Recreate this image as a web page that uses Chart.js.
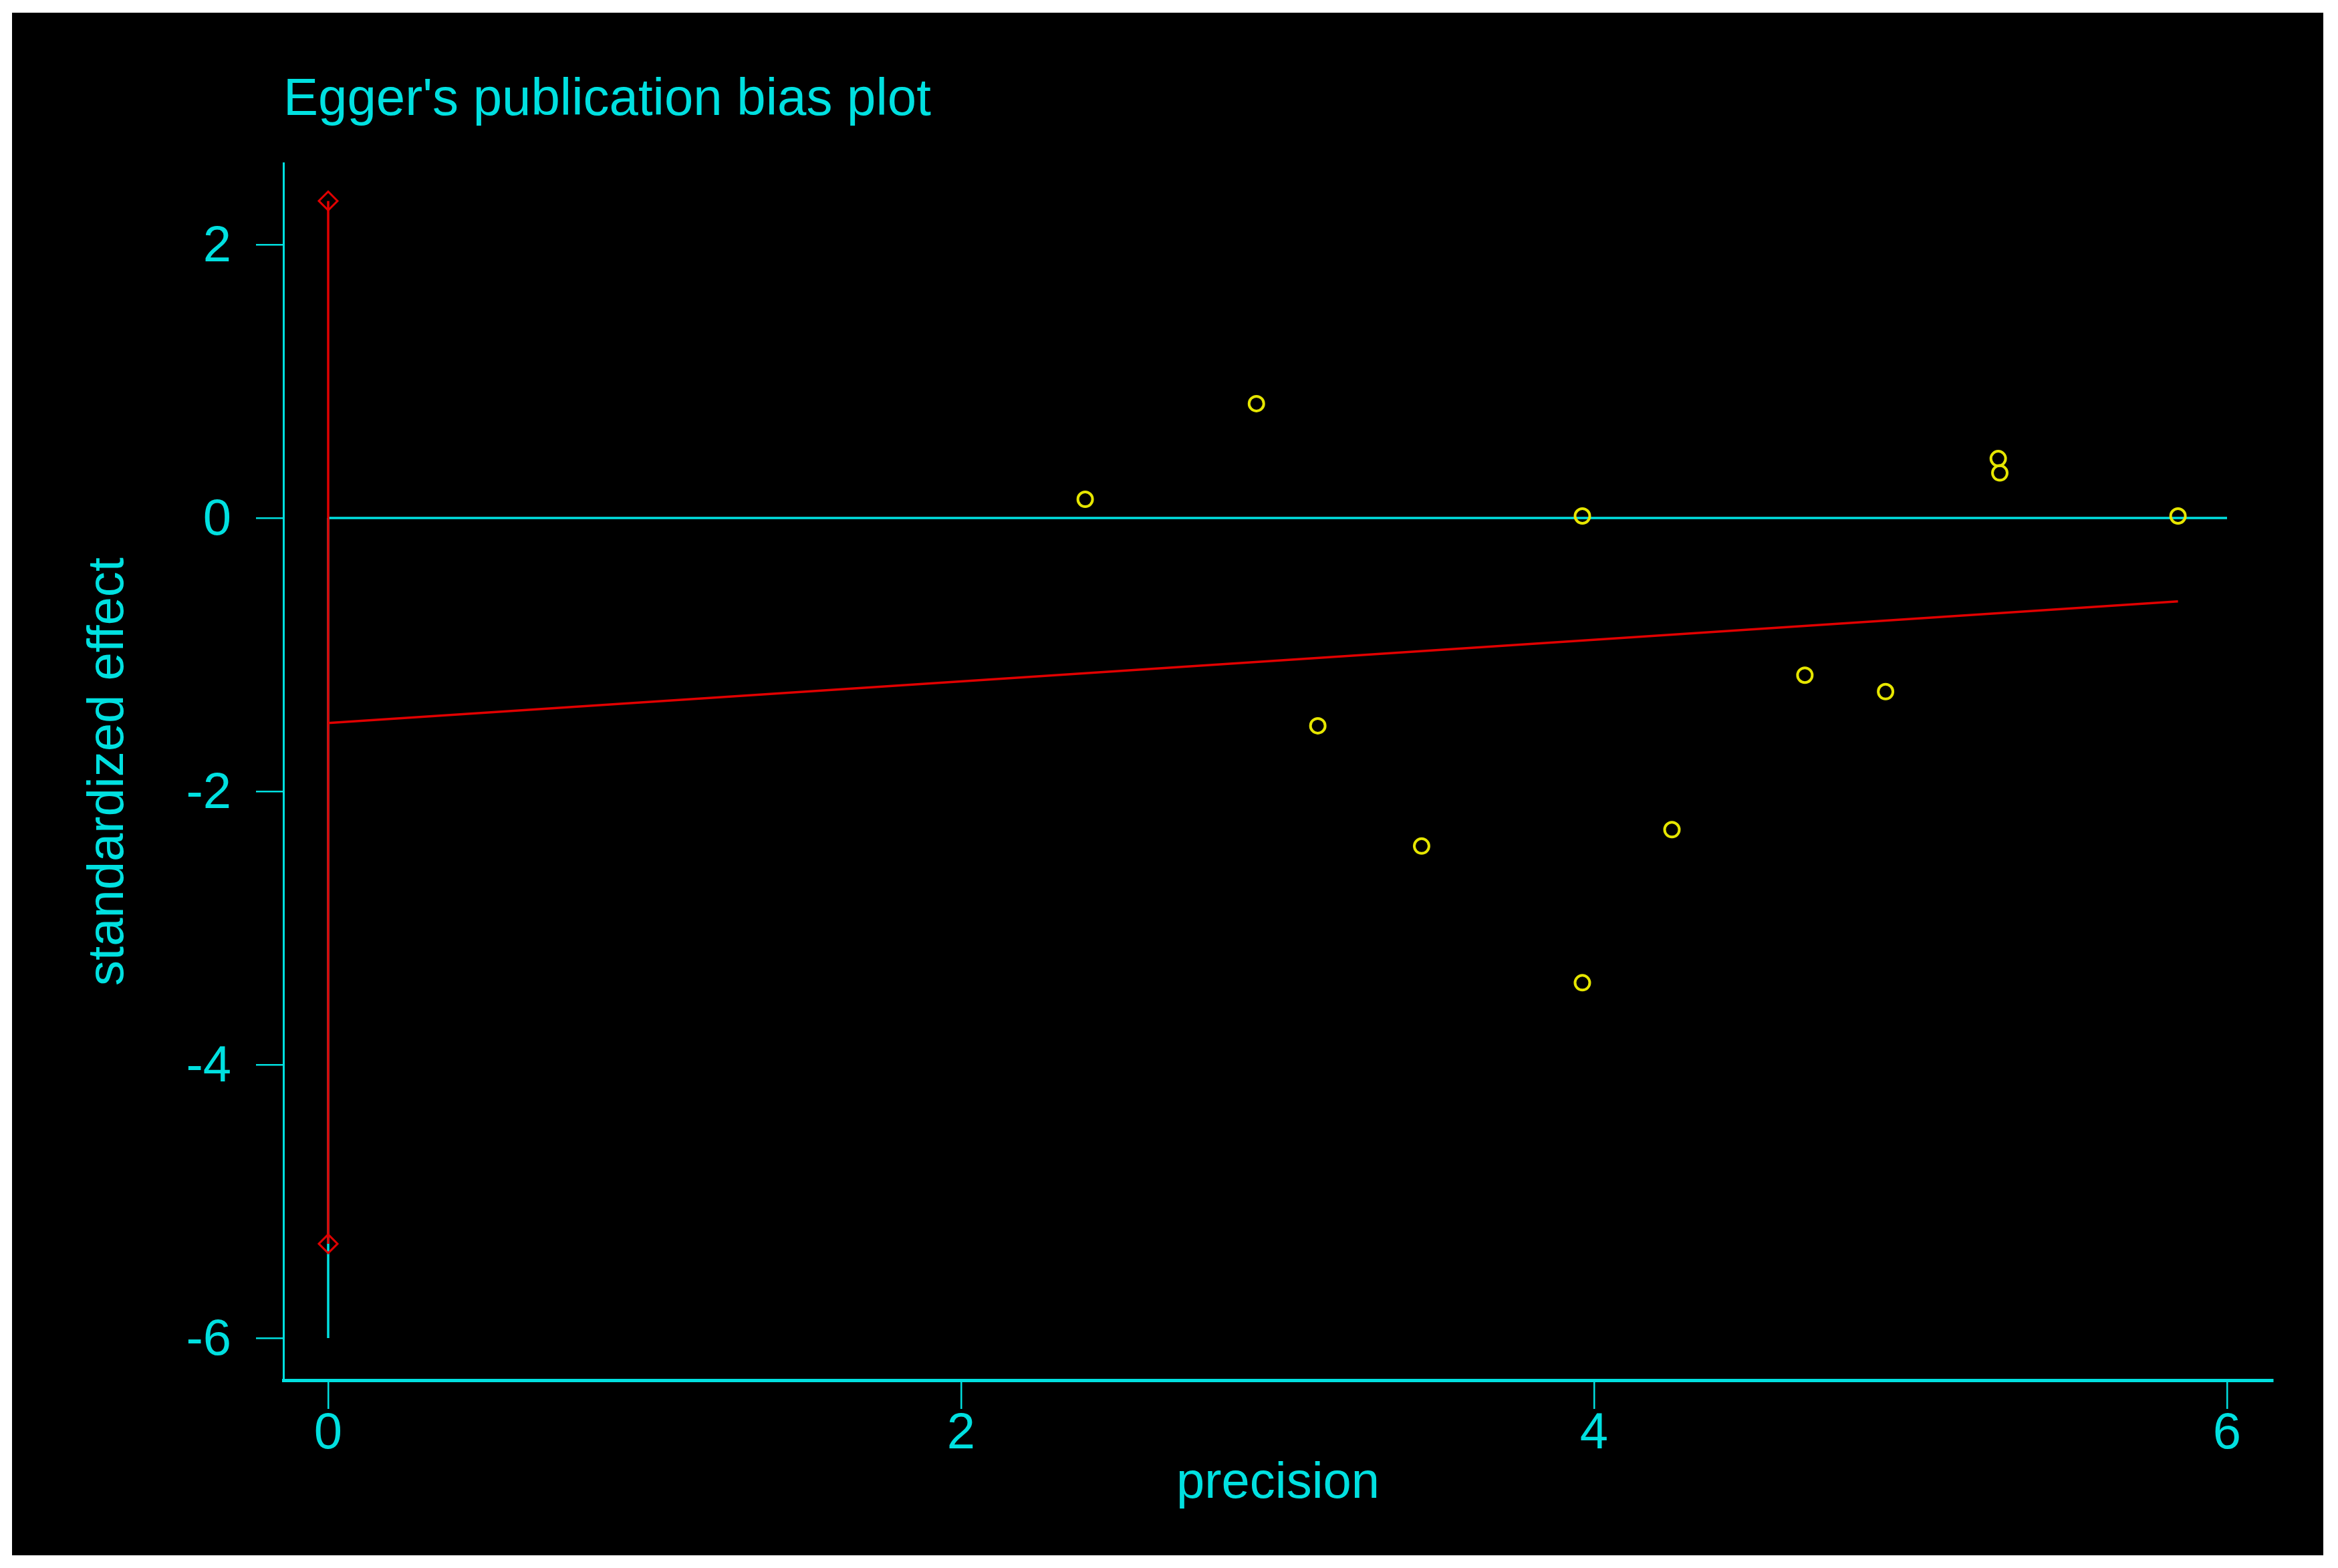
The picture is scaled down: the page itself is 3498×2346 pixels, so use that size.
<!DOCTYPE html>
<html>
<head>
<meta charset="utf-8">
<title>Egger's publication bias plot</title>
<script src="https://cdn.jsdelivr.net/npm/chart.js@4.4.1/dist/chart.umd.min.js"></script>
<style>
  html, body { margin: 0; padding: 0; background: #ffffff; }
  #box { position: absolute; left: 18px; top: 19px; width: 3458px; height: 2308px; background: #000000; }
</style>
</head>
<body>
<div id="box"><canvas id="egger" width="3458" height="2308"></canvas></div>
<script>
// studies: precision (1/se) vs standardized effect
var precision = [2.392, 2.933, 3.127, 3.455, 3.963, 3.963, 4.246, 4.666, 4.921, 5.277, 5.282, 5.845];
var stdEffect = [0.137, 0.837, -1.52, -2.40, 0.015, -3.40, -2.28, -1.15, -1.27, 0.435, 0.33, 0.015];

// Egger regression line and CI of the intercept
var regX = [0, 5.845];
var regY = [-1.50, -0.61];
var ciX = [0, 0];
var ciY = [-5.31, 2.32];

// reference lines
var zeroX = [0, 6];
var zeroY = [0, 0];
var baseX = [0, 0];
var baseY = [-6, 0];

var xTicks = [0, 2, 4, 6];
var yTicks = [-6, -4, -2, 0, 2];

var CYAN = '#00e0e0';
var RED = '#e00000';
var YELLOW = '#e6e600';
var FONT = '"Liberation Sans", Arial, sans-serif';

function pts(xs, ys) {
  return xs.map(function(x, i) { return {x: x, y: ys[i]}; });
}

function lineSet(xs, ys, color, width) {
  return {
    data: pts(xs, ys),
    showLine: true,
    borderColor: color,
    borderWidth: width,
    pointRadius: 0,
    backgroundColor: 'transparent'
  };
}

var ciSet = lineSet(ciX, ciY, RED, 3.5);
ciSet.pointRadius = 14;
ciSet.pointStyle = 'rectRot';
ciSet.pointBorderColor = RED;
ciSet.pointBorderWidth = 3;
ciSet.pointBackgroundColor = 'transparent';

var config = {
  type: 'scatter',
  data: {
    datasets: [
      {
        data: pts(precision, stdEffect),
        pointStyle: 'circle',
        pointRadius: 11,
        borderColor: YELLOW,
        borderWidth: 4,
        backgroundColor: 'transparent'
      },
      ciSet,
      lineSet(regX, regY, RED, 3.5),
      lineSet(zeroX, zeroY, CYAN, 3.5),
      lineSet(baseX, baseY, CYAN, 3.5)
    ]
  },
  options: {
    responsive: false,
    devicePixelRatio: 1,
    animation: false,
    layout: { padding: { left: 0, right: 76, top: 0, bottom: 0 } },
    plugins: {
      legend: { display: false },
      tooltip: { enabled: false },
      title: {
        display: true,
        text: "Egger's publication bias plot",
        align: 'start',
        fullSize: false,
        color: CYAN,
        font: { family: FONT, size: 78, weight: 'normal', lineHeight: 1 },
        padding: { top: 92, bottom: 55 }
      }
    },
    scales: {
      x: {
        type: 'linear',
        min: -0.1415,
        max: 6.1436,
        afterBuildTicks: function(scale) {
          scale.ticks = xTicks.map(function(v) { return {value: v}; });
        },
        afterFit: function(scale) { scale.height = 262; },
        grid: { drawOnChartArea: false, drawTicks: true, tickLength: 43, color: CYAN, lineWidth: 2.5 },
        border: { display: true, color: CYAN, width: 5 },
        ticks: {
          color: CYAN,
          padding: 8,
          maxRotation: 0,
          font: { family: FONT, size: 76, lineHeight: 0.8 }
        },
        title: {
          display: true,
          text: 'precision',
          color: CYAN,
          font: { family: FONT, size: 76, lineHeight: 1 },
          padding: { top: 0, bottom: 69 }
        }
      },
      y: {
        type: 'linear',
        min: -6.308,
        max: 2.597,
        afterBuildTicks: function(scale) {
          scale.ticks = yTicks.map(function(v) { return {value: v}; });
        },
        afterFit: function(scale) { scale.width = 406; },
        grid: { drawOnChartArea: false, drawTicks: true, tickLength: 41, color: CYAN, lineWidth: 2.5 },
        border: { display: true, color: CYAN, width: 3 },
        ticks: {
          color: CYAN,
          padding: 37,
          labelOffset: 4,
          font: { family: FONT, size: 76, lineHeight: 1 }
        },
        title: {
          display: true,
          text: 'standardized effect',
          color: CYAN,
          font: { family: FONT, size: 76, lineHeight: 1 },
          padding: { top: 107, bottom: 0 }
        }
      }
    }
  }
};

var chart = new Chart(document.getElementById('egger'), config);
</script>
</body>
</html>
